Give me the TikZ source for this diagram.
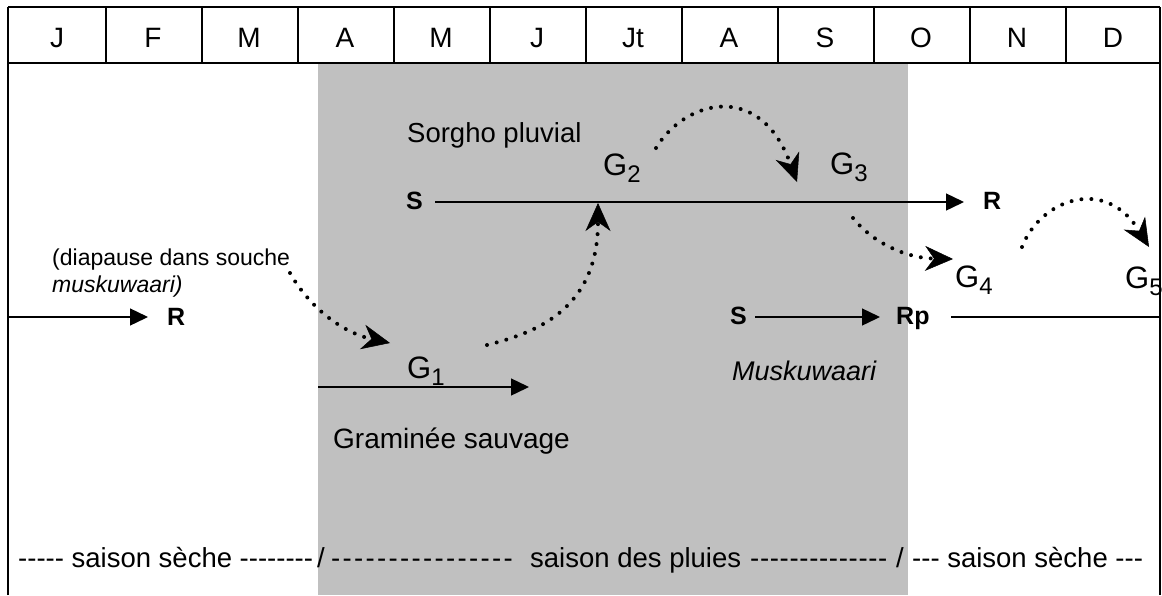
\documentclass[tikz,border=0pt]{standalone}
\usepackage{fontspec}
\setmainfont{Liberation Sans}[Ligatures=TeXOff]
\usetikzlibrary{arrows.meta}
\definecolor{greybg}{RGB}{192,192,192}
\newcommand\fsz[1]{\fontsize{#1}{#1}\selectfont}
\newcommand\Gsub[1]{G\raisebox{-7pt}{\fsz{24}#1}}
\tikzset{
  tablerule/.style={line width=2pt},
  borderrule/.style={line width=1.6pt},
  month/.style={inner sep=0pt, anchor=base, font=\fsz{28}},
  lbl/.style={inner sep=0pt, anchor=base west},
  season/.style={lbl, font=\fsz{27.5}},
  boldlbl/.style={lbl, font=\fsz{25}\bfseries},
  glbl/.style={lbl, font=\fsz{31}},
  solidarrow/.style={line width=1.4pt, -{Triangle[length=18pt,width=17pt]}},
  plainline/.style={line width=1.4pt},
  dotarrow/.style={line width=4pt, line cap=round, dash pattern=on 0pt off 10pt,
    -{Stealth[length=28pt,width=25pt,inset=9pt,line width=0.5pt]}},
}
\begin{document}
\begin{tikzpicture}[x=1pt,y=-1pt]
\useasboundingbox (0,0) rectangle (1162,595);
% rainy season background
\fill[greybg] (318,63) rectangle (908,595);
% table frame
\draw[borderrule] (8,595) -- (8,7);
\draw[borderrule] (1160,7) -- (1160,595);
\draw[tablerule] (8,7) -- (1160,7);
\draw[tablerule] (8,63) -- (1160,63);
\foreach \k in {1,...,11} \draw[tablerule] (9.5+96*\k,7) -- (9.5+96*\k,63);
\foreach \m [count=\i from 0] in {J,F,M,A,M,J,Jt,A,S,O,N,D}
  \node[month] (m\i) at (57+96*\i,47) {\m};

% left: diapause
\node[lbl, font=\fsz{23}] (diap) at (52,265) {(diapause dans souche};
\node[lbl, font=\fsz{23}\itshape] (diap2) at (52,292) {muskuwaari)};
\coordinate (lstart) at (8,317);
\coordinate (lend) at (148,317);
\draw[solidarrow] (lstart) -- (lend);
\node[boldlbl] (Rleft) at (167,325) {R};

% Sorgho pluvial
\node[lbl, font=\fsz{27.5}] (sorgho) at (407,142) {Sorgho pluvial};
\node[boldlbl] (Stop) at (406,209) {S};
\coordinate (tstart) at (435,202);
\coordinate (tend) at (964,202);
\draw[solidarrow] (tstart) -- (tend);
\node[boldlbl] (Rtop) at (983,209) {R};

\node[glbl] (G2) at (603,175) {\Gsub{2}};
\node[glbl] (G3) at (830,174) {\Gsub{3}};
\node[glbl] (G4) at (955,287) {\Gsub{4}};
\node[glbl] (G5) at (1125,288) {\Gsub{5}};
\node[glbl] (G1) at (407,378) {\Gsub{1}};

% Graminee sauvage
\coordinate (gstart) at (318,387);
\coordinate (gend) at (529,387);
\draw[solidarrow] (gstart) -- (gend);
\node[lbl, font=\fsz{28}] (gram) at (333,448) {Graminée sauvage};

% Muskuwaari
\node[boldlbl] (Smusk) at (730,324) {S};
\coordinate (mstart) at (755,317);
\coordinate (mend) at (880,317);
\draw[solidarrow] (mstart) -- (mend);
\node[boldlbl] (Rp) at (896,324) {Rp};
\coordinate (rpstart) at (951,317);
\coordinate (rpend) at (1160,317);
\draw[plainline] (rpstart) -- (rpend);
\node[lbl, font=\fsz{27}\itshape] (musk) at (732,380) {Muskuwaari};

% dotted generation arrows
\coordinate (d1a) at (290,273); \coordinate (d1b) at (390,343);
\draw[dotarrow] (d1a) .. controls (308,305) and (340,332) .. (d1b);
\coordinate (d2a) at (487,345); \coordinate (d2b) at (598,203);
\draw[dotarrow] (d2a) .. controls (535,333) and (598,310) .. (d2b);
\coordinate (d3a) at (656,148); \coordinate (d3b) at (797,182);
\draw[dotarrow] (d3a) .. controls (685,100) and (760,80) .. (d3b);
\coordinate (d4a) at (853,218); \coordinate (d4b) at (953,259);
\draw[dotarrow] (d4a) .. controls (872,242) and (905,258) .. (d4b);
\coordinate (d5a) at (1022,247); \coordinate (d5b) at (1149,247);
\draw[dotarrow] (d5a) .. controls (1040,200) and (1105,175) .. (d5b);

% seasons
\node[season] (sec1) at (18,567) {----- saison sèche --------};
\node[season] (sl1) at (317,567) {/};
\node[season] (dash1) at (331,567) {\addfontfeature{LetterSpace=8.5}----------------};
\node[season] (pluies) at (530,567) {saison des pluies};
\node[season] (dash2) at (750,567) {\addfontfeature{LetterSpace=2.5}--------------};
\node[season] (sl2) at (896,567) {/};
\node[season] (sec2) at (912,567) {--- saison sèche ---};
\end{tikzpicture}
\end{document}
